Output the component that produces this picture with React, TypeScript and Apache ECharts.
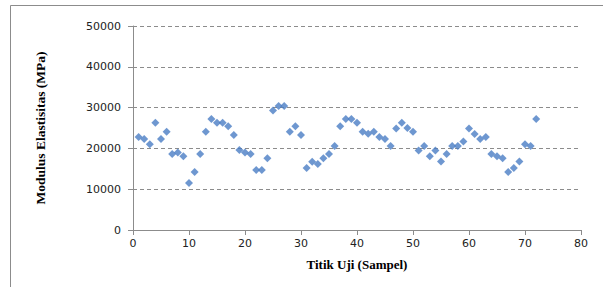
import React, { useEffect, useRef } from "react";
import * as echarts from "echarts";

const sampleNumbers = Array.from({ length: 72 }, (_, i) => i + 1);
const modulusValues = [
  22800, 22300, 21000, 26300, 22300, 24100, 18600, 19000, 18100, 11500,
  14200, 18600, 24100, 27200, 26300, 26300, 25400, 23300, 19600, 19000,
  18600, 14700, 14700, 17600, 29300, 30400, 30400, 24100, 25400, 23300,
  15200, 16700, 16200, 17600, 18600, 20600, 25400, 27200, 27200, 26300,
  24100, 23600, 24100, 22800, 22300, 20600, 24900, 26300, 25000, 24100,
  19500, 20600, 18100, 19500, 16800, 18600, 20600, 20600, 21700, 24900,
  23500, 22300, 22800, 18600, 18100, 17600, 14200, 15200, 16800, 21000,
  20600, 27200,
];
const xTitle = "Titik Uji (Sampel)";
const yTitle = "Modulus Elastisitas (MPa)";

export default function App() {
  const ref = useRef<HTMLDivElement>(null);
  useEffect(() => {
    if (!ref.current) return;
    const chart = echarts.init(ref.current, null, { renderer: "svg" });
    const data = sampleNumbers.map((x, i) => [x, modulusValues[i]]);
    chart.setOption({
      animation: false,
      backgroundColor: "#ffffff",
      graphic: [
        {
          type: "rect",
          shape: { x: 10.5, y: 5.5, width: 620, height: 300 },
          style: { fill: "none", stroke: "#8c8c8c", lineWidth: 1 },
          silent: true,
        },
      ],
      grid: { left: 133, right: 22, top: 26, bottom: 57 },
      xAxis: {
        type: "value",
        min: 0,
        max: 80,
        interval: 10,
        name: xTitle,
        nameLocation: "middle",
        nameGap: 28,
        nameTextStyle: {
          fontFamily: "Liberation Serif",
          fontWeight: "bold",
          fontSize: 13,
          color: "#000",
        },
        axisLine: { show: true, lineStyle: { color: "#8c8c8c" } },
        axisTick: { show: true, length: 5, inside: false, lineStyle: { color: "#8c8c8c" } },
        axisLabel: { fontFamily: "DejaVu Sans", fontSize: 11, color: "#222", margin: 8, formatter: (v: number) => String(v) },
        splitLine: { show: false },
      },
      yAxis: {
        type: "value",
        min: 0,
        max: 50000,
        interval: 10000,
        name: yTitle,
        nameLocation: "middle",
        nameGap: 86,
        nameRotate: 90,
        nameTextStyle: {
          fontFamily: "Liberation Serif",
          fontWeight: "bold",
          fontSize: 13.5,
          color: "#000",
        },
        axisLine: { show: true, lineStyle: { color: "#8c8c8c" } },
        axisTick: { show: true, length: 5, inside: false, lineStyle: { color: "#8c8c8c" } },
        axisLabel: { fontFamily: "DejaVu Sans", fontSize: 11, color: "#222", margin: 12, formatter: (v: number) => String(v) },
        splitLine: { show: true, lineStyle: { color: "#8c8c8c", type: [4, 3] } },
      },
      series: [
        {
          type: "scatter",
          data,
          symbol: "diamond",
          symbolSize: 8,
          itemStyle: { color: "#4a7dc4" },
        },
      ],
    });
    return () => chart.dispose();
  }, []);
  return (
    <div
      ref={ref}
      style={{ position: "absolute", left: 0, top: 0, width: 603, height: 287 }}
    />
  );
}
